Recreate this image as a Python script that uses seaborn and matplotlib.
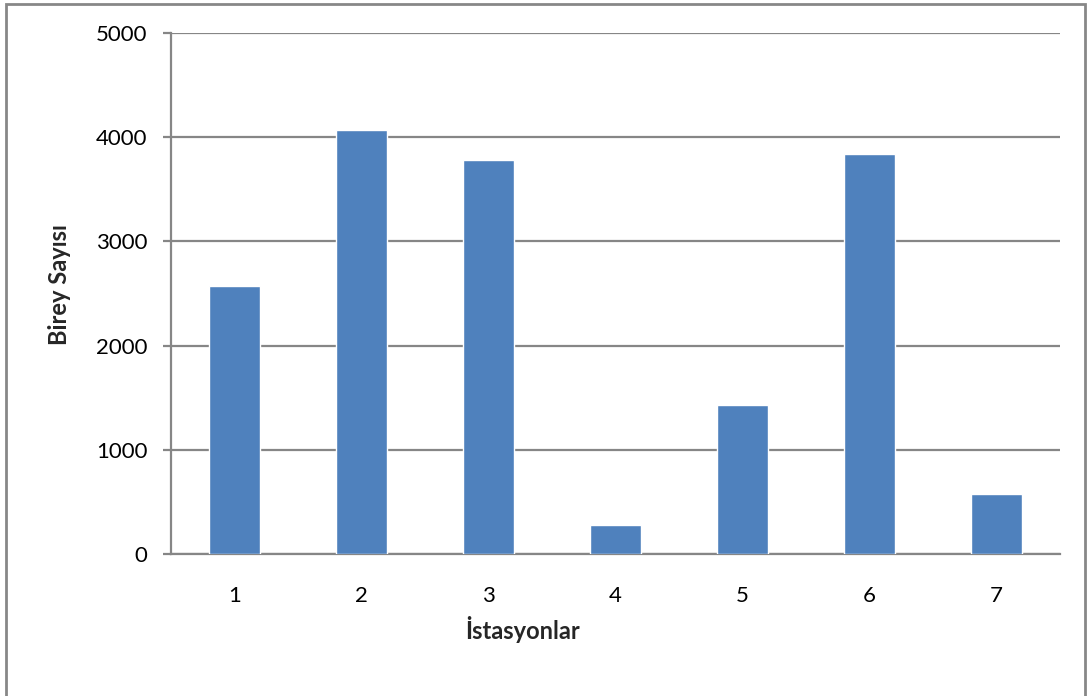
import matplotlib
matplotlib.use("Agg")
import matplotlib.pyplot as plt
import seaborn as sns
import pandas as pd
from matplotlib.patches import Rectangle

stations = ["1", "2", "3", "4", "5", "6", "7"]
counts = [2570, 4065, 3785, 282, 1428, 3843, 574]

sns.set_theme(style="white")
plt.rcParams['font.family'] = ['Lato', 'DejaVu Sans']

df = pd.DataFrame({"İstasyonlar": stations, "Birey Sayısı": counts})

fig = plt.figure(figsize=(10.87, 6.96), dpi=100)
ax = fig.add_axes([171/1087, 1-554/696, (1060-171)/1087, (554-33)/696])

sns.barplot(data=df, x="İstasyonlar", y="Birey Sayısı", color="#4F81BD",
            saturation=1, width=0.4, ax=ax, zorder=3)

grey = "#868686"
ax.set_ylim(0, 5000)
ax.set_yticks([0, 1000, 2000, 3000, 4000, 5000])
ax.set_xlim(-0.5, 6.5)
ax.yaxis.grid(True, color=grey, linewidth=1.6, zorder=0)
ax.set_axisbelow(True)
for s in ["top", "right"]:
    ax.spines[s].set_visible(False)
for s in ["left", "bottom"]:
    ax.spines[s].set_color(grey)
    ax.spines[s].set_linewidth(1.6)
ax.tick_params(axis="y", which="major", left=True, length=6, width=1.6,
               color=grey, pad=11, labelsize=16, labelcolor="black")
ax.tick_params(axis="x", which="major", bottom=False, pad=17,
               labelsize=16, labelcolor="black")
ax.set_xlabel("İstasyonlar", fontsize=17, fontweight="bold")
ax.set_ylabel("Birey Sayısı", fontsize=17, fontweight="bold")
ax.xaxis.set_label_coords((523-171)/889, (554-616)/521)
ax.yaxis.set_label_coords((71-171)/889, (554-285)/521)

fig.patches.append(Rectangle((6/1087, -0.1), (1085-6)/1087, 1.094,
                             transform=fig.transFigure, fill=False,
                             edgecolor="#878787", linewidth=2))

fig.savefig("out.png", dpi=100)
